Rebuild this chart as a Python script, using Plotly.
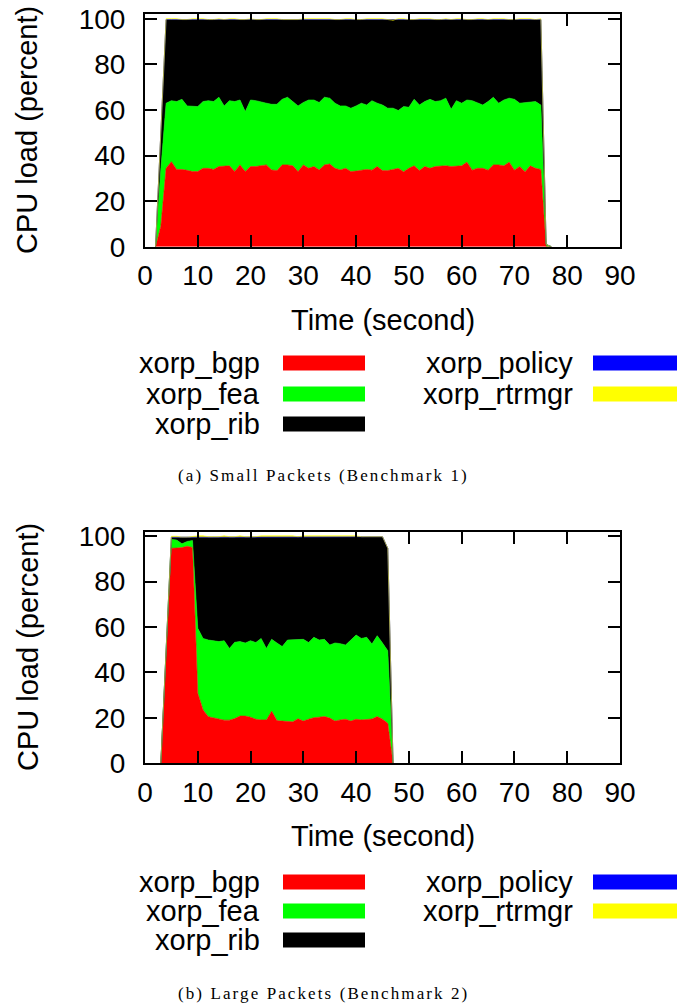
import plotly.graph_objects as go

W, H = 689, 1005

# ---------------- data: Small Packets (Benchmark 1) ----------------
time_a = list(range(2, 78))
bgp_a = [0, 9,
         34.4, 37.3, 33.9, 33.9, 33.5, 33.0, 33.0, 34.4, 34.4, 33.9,
         35.2, 35.2, 35.5, 33.0, 35.9, 33.0, 35.2, 35.2, 35.5, 35.9,
         33.7, 33.4, 35.9, 35.9, 35.5, 33.0, 35.9, 34.4, 35.2, 33.7,
         35.9, 36.3, 34.4, 33.7, 34.4, 33.0, 33.2, 33.6, 33.9, 33.6,
         35.2, 33.4, 33.4, 33.9, 34.4, 32.9, 34.4, 35.5, 33.4, 35.2,
         34.4, 35.2, 35.5, 35.5, 35.2, 35.5, 35.5, 37.1, 33.6, 34.4,
         34.4, 33.6, 35.9, 35.9, 35.5, 37.1, 33.6, 35.2, 32.9, 35.5,
         34.4, 33.9,
         0, 0]
fea_a = [0, 25,
         28.6, 26.8, 29.8, 30.8, 28.3, 28.5, 28.5, 29.3, 29.7, 29.8,
         30.4, 26.6, 28.6, 30.7, 28.5, 26.3, 29.2, 28.9, 28.2, 27.1,
         28.8, 29.1, 28.8, 29.7, 28.2, 28.8, 27.4, 30.0, 29.2, 29.6,
         29.7, 28.9, 28.6, 28.1, 27.4, 27.8, 28.6, 29.4, 28.3, 30.5,
         27.8, 28.8, 27.4, 26.9, 25.4, 28.6, 26.8, 29.2, 28.8, 28.5,
         30.3, 28.5, 28.6, 29.7, 25.1, 28.6, 27.5, 27.3, 30.5, 28.9,
         27.8, 30.1, 29.7, 27.1, 28.9, 28.1, 31.1, 27.8, 30.4, 27.8,
         29.3, 28.3,
         1.0, 0]
rib_a = [0, 16,
         36.6, 35.5, 35.9, 34.9, 37.8, 38.1, 38.1, 35.9, 35.5, 35.9,
         34.0, 37.8, 35.5, 35.9, 35.2, 40.3, 35.2, 35.5, 35.9, 36.6,
         37.1, 37.1, 34.9, 34.0, 35.6, 37.8, 36.3, 35.2, 35.2, 36.3,
         34.0, 34.4, 36.6, 37.8, 37.8, 38.8, 37.8, 36.6, 37.4, 35.5,
         36.6, 37.4, 38.8, 38.5, 39.8, 38.1, 38.4, 34.9, 37.4, 35.9,
         34.9, 35.9, 35.5, 34.4, 39.3, 35.5, 36.6, 35.2, 35.5, 36.3,
         37.4, 35.9, 34.0, 36.6, 35.2, 34.4, 34.9, 36.6, 36.3, 36.3,
         35.9, 37.4,
         0, 0]
policy_a = [0, 0] + [0.1] * 72 + [0, 0]
rtrmgr_a = [0, 0,
            0.4, 0.4, 0.4, 0.0, 0.0, 0.4, 0.4, 0.4, 0.0, 0.0,
            0.4, 0.0, 0.4, 0.4, 0.0, 0.0, 0.4, 0.0, 0.0, 0.4,
            0.4, 0.4, 0.0, 0.0, 0.4, 0.0, 0.4, 0.4, 0.4, 0.4,
            0.4, 0.4, 0.0, 0.0, 0.4, 0.4, 0.0, 0.0, 0.4, 0.4,
            0.4, 0.4, 0.0, 0.0, 0.4, 0.4, 0.0, 0.0, 0.4, 0.4,
            0.4, 0.0, 0.0, 0.4, 0.0, 0.4, 0.4, 0.0, 0.0, 0.4,
            0.4, 0.0, 0.4, 0.4, 0.4, 0.0, 0.0, 0.4, 0.4, 0.4,
            0.0, 0.4,
            0, 0]

# ---------------- data: Large Packets (Benchmark 2) ----------------
time_b = list(range(3, 48))
bgp_b = [0, 47, 94.7, 94.8, 95.0, 95.6, 95.0, 30.8, 23.5, 20.5,
         20.0, 19.3, 19.0, 19.0, 19.7, 20.8, 20.8, 20.3, 19.4, 19.1,
         19.1, 22.9, 18.8, 18.6, 18.6, 18.3, 19.6, 18.6, 19.4, 20.1,
         20.3, 20.6, 19.9, 18.6, 19.1, 19.4, 18.6, 19.4, 19.1, 19.4,
         19.5, 20.6, 19.4, 17.6, 0]
fea_b = [0, 0.5, 3.9, 3.5, 1.7, 2.1, 3.1, 28.7, 31.5, 33.8,
         34.0, 34.3, 35.0, 31.6, 33.6, 32.8, 32.2, 33.7, 33.8, 35.9,
         31.5, 31.7, 34.2, 32.8, 35.7, 36.0, 35.0, 36.0, 33.8, 35.4,
         34.0, 34.0, 32.2, 34.4, 33.6, 32.7, 35.7, 37.1, 35.9, 36.1,
         33.0, 35.6, 33.6, 32.0, 0]
rib_b = [0, 0.5, 0.9, 1.2, 2.8, 1.8, 1.4, 40.2, 44.7, 45.4,
         45.7, 46.1, 45.7, 49.1, 46.4, 46.1, 46.7, 45.7, 46.5, 44.7,
         49.1, 45.1, 46.7, 48.3, 45.4, 45.4, 45.1, 45.1, 46.5, 44.2,
         45.4, 45.1, 47.6, 46.7, 47.0, 47.6, 45.4, 43.2, 44.7, 44.2,
         47.2, 43.5, 46.7, 45.0, 0]
policy_b = [0, 0] + [0.1] * 42 + [0]
rtrmgr_b = [0, 0, 0.4, 0.4, 0.0, 0.0, 0.4, 0.4, 0.4, 0.0,
            0.0, 0.0, 0.4, 0.0, 0.0, 0.4, 0.0, 0.0, 0.0, 0.4,
            0.4, 0.4, 0.4, 0.4, 0.4, 0.4, 0.0, 0.4, 0.4, 0.4,
            0.4, 0.4, 0.4, 0.4, 0.4, 0.4, 0.4, 0.4, 0.0, 0.0,
            0.0, 0.0, 0.0, 0.0, 0]

process_names = ["xorp_bgp", "xorp_fea", "xorp_rib", "xorp_policy", "xorp_rtrmgr"]
process_colors = ["#ff0000", "#00ff00", "#000000", "#0000ff", "#ffff00"]

x_ticks = [0, 10, 20, 30, 40, 50, 60, 70, 80, 90]
y_ticks = [0, 20, 40, 60, 80, 100]
x_title = "Time (second)"
y_title = "CPU load (percent)"
captions = ["(a) Small Packets (Benchmark 1)", "(b) Large Packets (Benchmark 2)"]

# ---------------- layout geometry (pixels) ----------------
PX_L, PX_R = 145, 620
panels = [
    dict(top=14.3, bot=246.7, xlab=320, leg=[363, 394, 424], cap=476),
    dict(top=531.7, bot=763.3, xlab=836, leg=[882, 911, 940], cap=993),
]

SANS = "Liberation Sans, Arial, Helvetica, sans-serif"
SERIF = "Liberation Serif, Times New Roman, serif"
FS_TICK = 28
FS = 29

fig = go.Figure()

datasets = [
    (time_a, [bgp_a, fea_a, rib_a, policy_a, rtrmgr_a]),
    (time_b, [bgp_b, fea_b, rib_b, policy_b, rtrmgr_b]),
]

for i, (tt, series) in enumerate(datasets):
    xa = "x" if i == 0 else "x2"
    ya = "y" if i == 0 else "y2"
    for name, vals, col in zip(process_names, series, process_colors):
        fig.add_trace(go.Scatter(
            x=tt, y=vals, name=name, mode="lines",
            stackgroup="s%d" % i, line=dict(width=0.6, color=col),
            fillcolor=col, xaxis=xa, yaxis=ya, showlegend=False,
        ))

def px2x(p):
    return p / W

def px2y(p):
    return 1 - p / H

axis_common = dict(
    showline=True, linecolor="black", linewidth=2, mirror="ticks",
    ticks="inside", ticklen=12, tickwidth=1.6, tickcolor="black",
    showgrid=False, zeroline=False, automargin=False,
    tickfont=dict(family=SANS, size=FS_TICK, color="black"),
)

layout = dict(
    width=W, height=H, margin=dict(l=0, r=0, t=0, b=0, autoexpand=False),
    paper_bgcolor="white", plot_bgcolor="white", showlegend=False,
)
annotations = []
shapes = []

for i, p in enumerate(panels):
    sfx = "" if i == 0 else "2"
    layout["xaxis" + sfx] = dict(
        axis_common, domain=[px2x(PX_L), px2x(PX_R)], range=[0, 90],
        tickvals=x_ticks, anchor="y" + sfx, ticklabelstandoff=3,
    )
    layout["yaxis" + sfx] = dict(
        axis_common, domain=[px2y(p["bot"]), px2y(p["top"])], range=[0, 102],
        tickvals=y_ticks, anchor="x" + sfx, ticklabelstandoff=12,
    )
    # axis titles
    annotations.append(dict(
        text=x_title, x=px2x((PX_L + PX_R) / 2), y=px2y(p["xlab"]),
        xref="paper", yref="paper", showarrow=False,
        xanchor="center", yanchor="middle",
        font=dict(family=SANS, size=FS, color="black")))
    annotations.append(dict(
        text=y_title, x=px2x(27.5), y=px2y((p["top"] + p["bot"]) / 2),
        xref="paper", yref="paper", showarrow=False, textangle=-90,
        xanchor="center", yanchor="middle",
        font=dict(family=SANS, size=FS, color="black")))
    # legend (two columns, text right-aligned then colour sample)
    cols = [(262, 283, 365), (575, 593, 677)]
    slots = [(0, 0), (0, 1), (0, 2), (1, 0), (1, 1)]
    for k, name in enumerate(process_names):
        c, r = slots[k]
        tx, s0, s1 = cols[c]
        yy = p["leg"][r]
        annotations.append(dict(
            text=name, x=px2x(tx), y=px2y(yy), xref="paper", yref="paper",
            showarrow=False, xanchor="right", yanchor="middle",
            font=dict(family=SANS, size=FS, color="black")))
        shapes.append(dict(
            type="rect", xref="paper", yref="paper",
            x0=px2x(s0), x1=px2x(s1), y0=px2y(yy + 7.5), y1=px2y(yy - 7.5),
            fillcolor=process_colors[k], line=dict(width=0)))
    annotations.append(dict(
        text='<span style="letter-spacing:2.1px">%s</span>' % captions[i],
        x=px2x(323), y=px2y(p["cap"]), xref="paper", yref="paper",
        showarrow=False, xanchor="center", yanchor="middle",
        font=dict(family=SERIF, size=17, color="black")))

layout["annotations"] = annotations
layout["shapes"] = shapes
fig.update_layout(**layout)

fig.write_html("out.html", config={"displayModeBar": False},
               post_script="document.body.style.margin='0';document.body.style.overflow='hidden';")
